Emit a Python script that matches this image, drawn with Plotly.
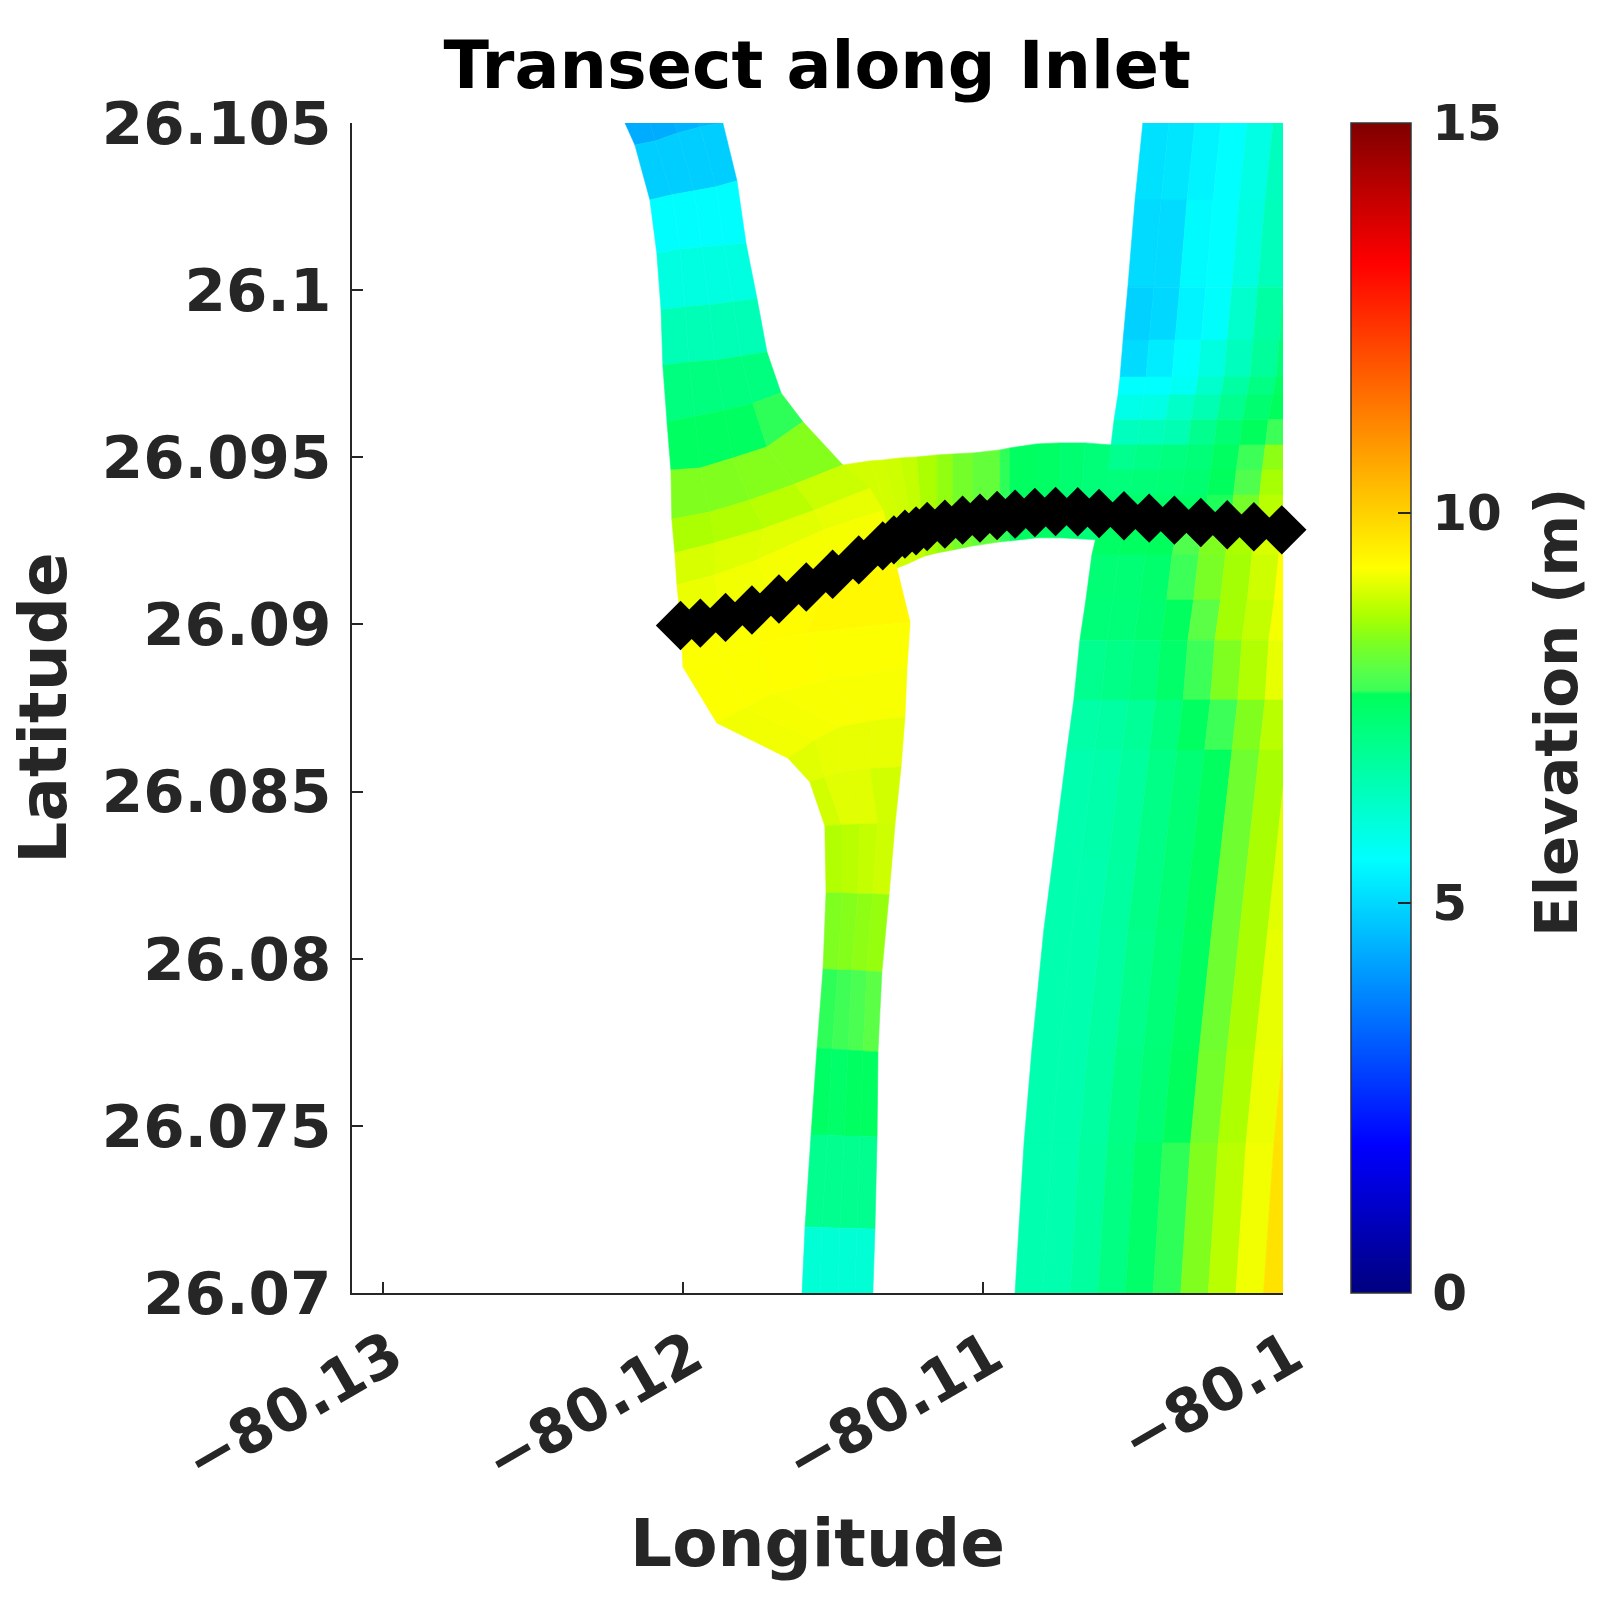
import plotly.graph_objects as go
from plotly.colors import sample_colorscale

# elevation colour map
cmap_elev = [0, 1.9, 5.56, 7.68, 7.72, 7.95, 8.37, 8.67, 9.3, 13.2, 15]
cmap_rgb = ["rgb(0,0,127)", "rgb(0,0,255)", "rgb(0,255,255)", "rgb(0,255,90)", "rgb(60,255,88)",
            "rgb(85,255,75)", "rgb(128,255,30)", "rgb(170,255,0)", "rgb(255,255,0)", "rgb(255,0,0)",
            "rgb(127,0,0)"]
cmin, cmax = 0, 15

# western channel, curvilinear mesh: rows north to south, 5 nodes across
west_lon = [
    [-80.12193, -80.12110, -80.12030, -80.11950, -80.11867],
    [-80.12160, -80.12093, -80.12017, -80.11943, -80.11867],
    [-80.12110, -80.12037, -80.11963, -80.11890, -80.11820],
    [-80.12087, -80.12010, -80.11937, -80.11863, -80.11790],
    [-80.12073, -80.11993, -80.11913, -80.11833, -80.11753],
    [-80.12067, -80.11980, -80.11893, -80.11807, -80.11720],
    [-80.12053, -80.11960, -80.11863, -80.11767, -80.11673],
    [-80.12040, -80.11943, -80.11833, -80.11720, -80.11600],
    [-80.12037, -80.11910, -80.11777, -80.11627, -80.11467],
    [-80.12027, -80.11893, -80.11727, -80.11560, -80.11377],
    [-80.12020, -80.11893, -80.11753, -80.11533, -80.11333],
    [-80.12007, -80.11877, -80.11710, -80.11510, -80.11287],
    [-80.12000, -80.11877, -80.11753, -80.11587, -80.11243],
    [-80.11887, -80.11793, -80.11700, -80.11533, -80.11253],
    [-80.11650, -80.11560, -80.11477, -80.11370, -80.11260],
    [-80.11577, -80.11527, -80.11477, -80.11377, -80.11273],
    [-80.11527, -80.11470, -80.11410, -80.11350, -80.11293],
    [-80.11523, -80.11470, -80.11417, -80.11367, -80.11313],
    [-80.11533, -80.11483, -80.11437, -80.11387, -80.11337],
    [-80.11553, -80.11503, -80.11450, -80.11400, -80.11350],
    [-80.11573, -80.11517, -80.11463, -80.11410, -80.11353],
    [-80.11593, -80.11537, -80.11477, -80.11420, -80.11360],
    [-80.11603, -80.11543, -80.11483, -80.11427, -80.11367],
]
west_lat = [
    [26.10500, 26.10500, 26.10500, 26.10500, 26.10500],
    [26.10434, 26.10446, 26.10470, 26.10488, 26.10500],
    [26.10270, 26.10285, 26.10297, 26.10309, 26.10327],
    [26.10111, 26.10123, 26.10129, 26.10135, 26.10141],
    [26.09941, 26.09950, 26.09956, 26.09965, 26.09974],
    [26.09776, 26.09785, 26.09791, 26.09803, 26.09815],
    [26.09606, 26.09623, 26.09641, 26.09662, 26.09692],
    [26.09462, 26.09468, 26.09498, 26.09531, 26.09606],
    [26.09315, 26.09336, 26.09372, 26.09420, 26.09477],
    [26.09214, 26.09244, 26.09288, 26.09342, 26.09408],
    [26.09118, 26.09148, 26.09193, 26.09282, 26.09342],
    [26.08998, 26.09043, 26.09088, 26.09148, 26.09169],
    [26.08873, 26.08909, 26.08944, 26.08974, 26.09007],
    [26.08705, 26.08750, 26.08795, 26.08834, 26.08870],
    [26.08600, 26.08654, 26.08693, 26.08711, 26.08723],
    [26.08529, 26.08544, 26.08559, 26.08568, 26.08574],
    [26.08397, 26.08400, 26.08403, 26.08403, 26.08403],
    [26.08197, 26.08197, 26.08194, 26.08194, 26.08191],
    [26.07969, 26.07966, 26.07966, 26.07963, 26.07960],
    [26.07733, 26.07730, 26.07727, 26.07724, 26.07721],
    [26.07473, 26.07473, 26.07470, 26.07470, 26.07467],
    [26.07197, 26.07197, 26.07194, 26.07194, 26.07191],
    [26.07000, 26.07000, 26.07000, 26.07000, 26.07000],
]
west_elev = [
    [4.37, 4.37, 4.45, 4.60],
    [4.85, 4.85, 4.85, 4.85],
    [5.55, 5.55, 5.55, 5.55],
    [5.95, 5.95, 5.95, 5.95],
    [6.50, 6.50, 6.50, 6.50],
    [7.20, 7.20, 7.20, 7.20],
    [7.60, 7.60, 7.60, 7.71],
    [8.37, 8.37, 8.40, 8.40],
    [8.68, 8.72, 8.79, 8.90],
    [9.01, 9.05, 9.08, 9.12],
    [9.16, 9.20, 9.23, 9.23],
    [9.27, 9.27, 9.35, 9.40],
    [9.27, 9.27, 9.32, 9.27],
    [9.20, 9.23, 9.25, 9.25],
    [9.08, 9.12, 9.12, 9.12],
    [8.97, 9.08, 9.08, 8.97],
    [8.72, 8.79, 8.86, 8.94],
    [8.35, 8.40, 8.47, 8.53],
    [7.71, 7.75, 7.85, 8.00],
    [7.55, 7.50, 7.60, 7.60],
    [7.00, 7.00, 7.00, 7.00],
    [6.10, 6.10, 6.10, 6.10],
]

# east-west link between the two channels: north edge, south edge
link_lon = [
    [-80.11467, -80.11377, -80.11333, -80.11277, -80.11220, -80.11153, -80.11100,
     -80.11033, -80.10943, -80.10910, -80.10820, -80.10743, -80.10660, -80.10573],
    [-80.11287, -80.11260, -80.11237, -80.11217, -80.11193, -80.11153, -80.11100,
     -80.11033, -80.10943, -80.10910, -80.10820, -80.10743, -80.10677, -80.10620],
]
link_lat = [
    [26.09477, 26.09489, 26.09492, 26.09498, 26.09501, 26.09507, 26.09510,
     26.09513, 26.09522, 26.09528, 26.09540, 26.09543, 26.09543, 26.09537],
    [26.09169, 26.09178, 26.09187, 26.09196, 26.09205, 26.09214, 26.09223,
     26.09235, 26.09247, 26.09250, 26.09259, 26.09259, 26.09256, 26.09253],
]
link_elev = [[8.97, 8.97, 8.94, 8.86, 8.68, 8.50, 8.25, 8.10, 7.71, 7.60, 7.55, 7.40, 7.30]]

# eastern channel: per latitude row, west bank longitude and cell width
east_lat = [26.10500, 26.10270, 26.10009, 26.09851, 26.09740, 26.09686, 26.09612,
            26.09537, 26.09462, 26.09387, 26.09312, 26.09208, 26.09073, 26.08953,
            26.08774, 26.08624, 26.08295, 26.08086, 26.07727, 26.07449, 26.07000]
east_bank = [-80.10467, -80.10493, -80.10517, -80.10533, -80.10543, -80.10550, -80.10563,
             -80.10573, -80.10587, -80.10600, -80.10610, -80.10637, -80.10657, -80.10677,
             -80.10697, -80.10720, -80.10767, -80.10797, -80.10837, -80.10863, -80.10893]
east_width = [0.000867, 0.000867, 0.000867, 0.000867, 0.000867, 0.000860, 0.000857,
              0.000857, 0.000863, 0.000870, 0.000880, 0.000890, 0.000897, 0.000900,
              0.000910, 0.000917, 0.000927, 0.000933, 0.000930, 0.000925, 0.000920]
east_elev = [
    [5.13, 5.20, 5.40, 5.56, 5.90, 6.40, 6.80, 7.00, 7.20, 7.30],
    [5.05, 5.05, 5.50, 5.56, 5.95, 6.45, 6.80, 7.00, 7.20, 7.30],
    [4.90, 5.00, 5.40, 5.60, 6.20, 6.75, 7.10, 7.30, 7.40, 7.50],
    [5.05, 5.30, 5.56, 5.95, 6.40, 6.85, 7.30, 7.50, 7.60, 7.60],
    [5.56, 5.56, 5.70, 6.20, 6.75, 7.15, 7.55, 7.60, 7.60, 7.60],
    [5.85, 5.90, 6.25, 6.55, 7.00, 7.40, 7.65, 7.70, 7.70, 7.70],
    [6.40, 6.45, 6.55, 7.00, 7.35, 7.65, 7.72, 8.20, 8.40, 8.40],
    [7.00, 7.10, 7.20, 7.30, 7.60, 7.72, 8.47, 8.80, 9.00, 9.00],
    [7.25, 7.30, 7.35, 7.40, 7.65, 7.90, 8.64, 8.90, 9.00, 9.00],
    [7.40, 7.45, 7.50, 7.55, 7.70, 8.25, 8.79, 9.08, 9.20, 9.20],
    [7.55, 7.60, 7.65, 7.90, 8.35, 8.68, 9.01, 9.30, 9.40, 9.50],
    [7.35, 7.35, 7.45, 7.72, 8.30, 8.63, 8.94, 9.30, 9.40, 9.50],
    [7.30, 7.30, 7.40, 7.62, 8.00, 8.63, 8.86, 9.23, 9.35, 9.50],
    [7.00, 7.10, 7.20, 7.50, 7.72, 8.35, 8.72, 9.12, 9.35, 9.50],
    [6.70, 6.75, 6.90, 7.20, 7.60, 7.72, 8.37, 8.79, 9.08, 9.60],
    [6.60, 6.65, 6.80, 7.10, 7.35, 7.62, 8.20, 8.66, 9.08, 9.60],
    [6.60, 6.60, 6.78, 7.10, 7.35, 7.62, 8.20, 8.66, 9.08, 9.70],
    [6.60, 6.60, 6.75, 7.05, 7.30, 7.60, 8.20, 8.66, 9.12, 9.70],
    [6.60, 6.60, 6.78, 7.10, 7.35, 7.65, 8.25, 8.70, 9.16, 9.72],
    [6.60, 6.60, 6.80, 7.15, 7.50, 7.71, 8.37, 8.79, 9.20, 9.75],
]

# transect points
transect_lon = [-80.12008, -80.11942, -80.11858, -80.11770, -80.11680, -80.11589, -80.11501,
                -80.11414, -80.11334, -80.11297, -80.11260, -80.11223, -80.11186, -80.11127,
                -80.11068, -80.11010, -80.10953, -80.10893, -80.10827, -80.10758, -80.10684,
                -80.10613, -80.10530, -80.10446, -80.10362, -80.10274, -80.10186, -80.10097,
                -80.10004]
transect_lat = [26.08997, 26.09004, 26.09021, 26.09043, 26.09076, 26.09112, 26.09150,
                26.09193, 26.09235, 26.09253, 26.09270, 26.09280, 26.09293, 26.09300,
                26.09312, 26.09318, 26.09326, 26.09330, 26.09335, 26.09338, 26.09337,
                26.09332, 26.09325, 26.09318, 26.09312, 26.09305, 26.09298, 26.09292,
                26.09283]

lon_ticks = [-80.13, -80.12, -80.11, -80.1]
lon_labels = ["\u221280.13", "\u221280.12", "\u221280.11", "\u221280.1"]
lat_ticks = [26.07, 26.075, 26.08, 26.085, 26.09, 26.095, 26.1, 26.105]
lat_labels = ["26.07", "26.075", "26.08", "26.085", "26.09", "26.095", "26.1", "26.105"]
elev_ticks = [0, 5, 10, 15]
elev_labels = ["\u20090", "\u20095", "\u200910", "\u200915"]

colorscale = [[v / cmax, c] for v, c in zip(cmap_elev, cmap_rgb)]
FONT = "DejaVu Sans"
INK = "#262626"


def add_mesh(fig, lons, lats, elev):
    # one filled quad per cell, like pcolor on a curvilinear grid
    for i, row in enumerate(elev):
        for j, val in enumerate(row):
            color = sample_colorscale(colorscale, (val - cmin) / (cmax - cmin))[0]
            fig.add_trace(go.Scatter(
                x=[lons[i][j], lons[i][j + 1], lons[i + 1][j + 1], lons[i + 1][j], lons[i][j]],
                y=[lats[i][j], lats[i][j + 1], lats[i + 1][j + 1], lats[i + 1][j], lats[i][j]],
                mode="lines", fill="toself", fillcolor=color,
                line=dict(color=color, width=0.6),
                hoverinfo="skip", showlegend=False))


fig = go.Figure()

east_lons = [[b + w * k for k in range(len(east_elev[0]) + 1)] for b, w in zip(east_bank, east_width)]
east_lats = [[lat] * (len(east_elev[0]) + 1) for lat in east_lat]
add_mesh(fig, east_lons, east_lats, east_elev)
add_mesh(fig, link_lon, link_lat, link_elev)
add_mesh(fig, west_lon, west_lat, west_elev)

fig.add_trace(go.Scatter(
    x=transect_lon, y=transect_lat, mode="markers", cliponaxis=False, showlegend=False,
    marker=dict(symbol="diamond", size=38, color="black", line=dict(width=0))))

# invisible point that carries the colour bar
fig.add_trace(go.Scatter(
    x=transect_lon[:1], y=transect_lat[:1], mode="markers", showlegend=False, hoverinfo="skip",
    marker=dict(size=1, opacity=0, color=[west_elev[0][0]], cmin=cmin, cmax=cmax,
                colorscale=colorscale, showscale=True,
                colorbar=dict(
                    x=1351 / 1623, xanchor="left", xpad=0, ypad=0,
                    y=0.5638, yanchor="middle", len=1170 / 1623, lenmode="fraction",
                    thickness=60, outlinecolor="#333333", outlinewidth=1.5,
                    tickvals=elev_ticks, ticktext=elev_labels,
                    ticks="inside", ticklen=13, tickwidth=1.5, tickcolor=INK,
                    tickfont=dict(family=FONT, size=50, color=INK, weight=700)))))

fig.update_layout(
    width=1623, height=1623, margin=dict(l=0, r=0, t=0, b=0, autoexpand=False),
    paper_bgcolor="white", plot_bgcolor="white", showlegend=False,
    title=dict(text="Transect along Inlet", x=0.5035, xanchor="center", y=1 - 65 / 1623, yanchor="middle",
               font=dict(family=FONT, size=66.7, color="black", weight=700)),
    annotations=[dict(text="Elevation (m)", textangle=-90, xref="paper", yref="paper",
                      x=1557 / 1623, y=1 - 712 / 1623, xanchor="center", yanchor="middle", showarrow=False,
                      font=dict(family=FONT, size=59.5, color=INK, weight=700))],
    xaxis=dict(domain=[352 / 1623, 1283 / 1623], range=[-80.13103, -80.1], tickvals=lon_ticks,
               ticktext=lon_labels, tickangle=-30, ticks="inside", ticklen=11, tickwidth=1.5,
               tickcolor=INK, showgrid=False, zeroline=False, showline=True, linecolor=INK, linewidth=1.5,
               ticklabelshift=9, ticklabelstandoff=3,
               tickfont=dict(family=FONT, size=59.5, color=INK, weight=700),
               title=dict(text="Longitude", standoff=24,
                          font=dict(family=FONT, size=66, color=INK, weight=700))),
    yaxis=dict(domain=[1 - 1293 / 1623, 1 - 123 / 1623], range=[26.07, 26.105], tickvals=lat_ticks,
               ticktext=lat_labels, ticks="inside", ticklen=11, tickwidth=1.5, tickcolor=INK,
               showgrid=False, zeroline=False, showline=True, linecolor=INK, linewidth=1.5,
               ticklabelstandoff=7,
               tickfont=dict(family=FONT, size=59.5, color=INK, weight=700),
               title=dict(text="Latitude", standoff=14,
                          font=dict(family=FONT, size=66, color=INK, weight=700))),
)

fig.write_html("out.html", config=dict(displayModeBar=False),
               post_script="document.body.style.margin='0'")
